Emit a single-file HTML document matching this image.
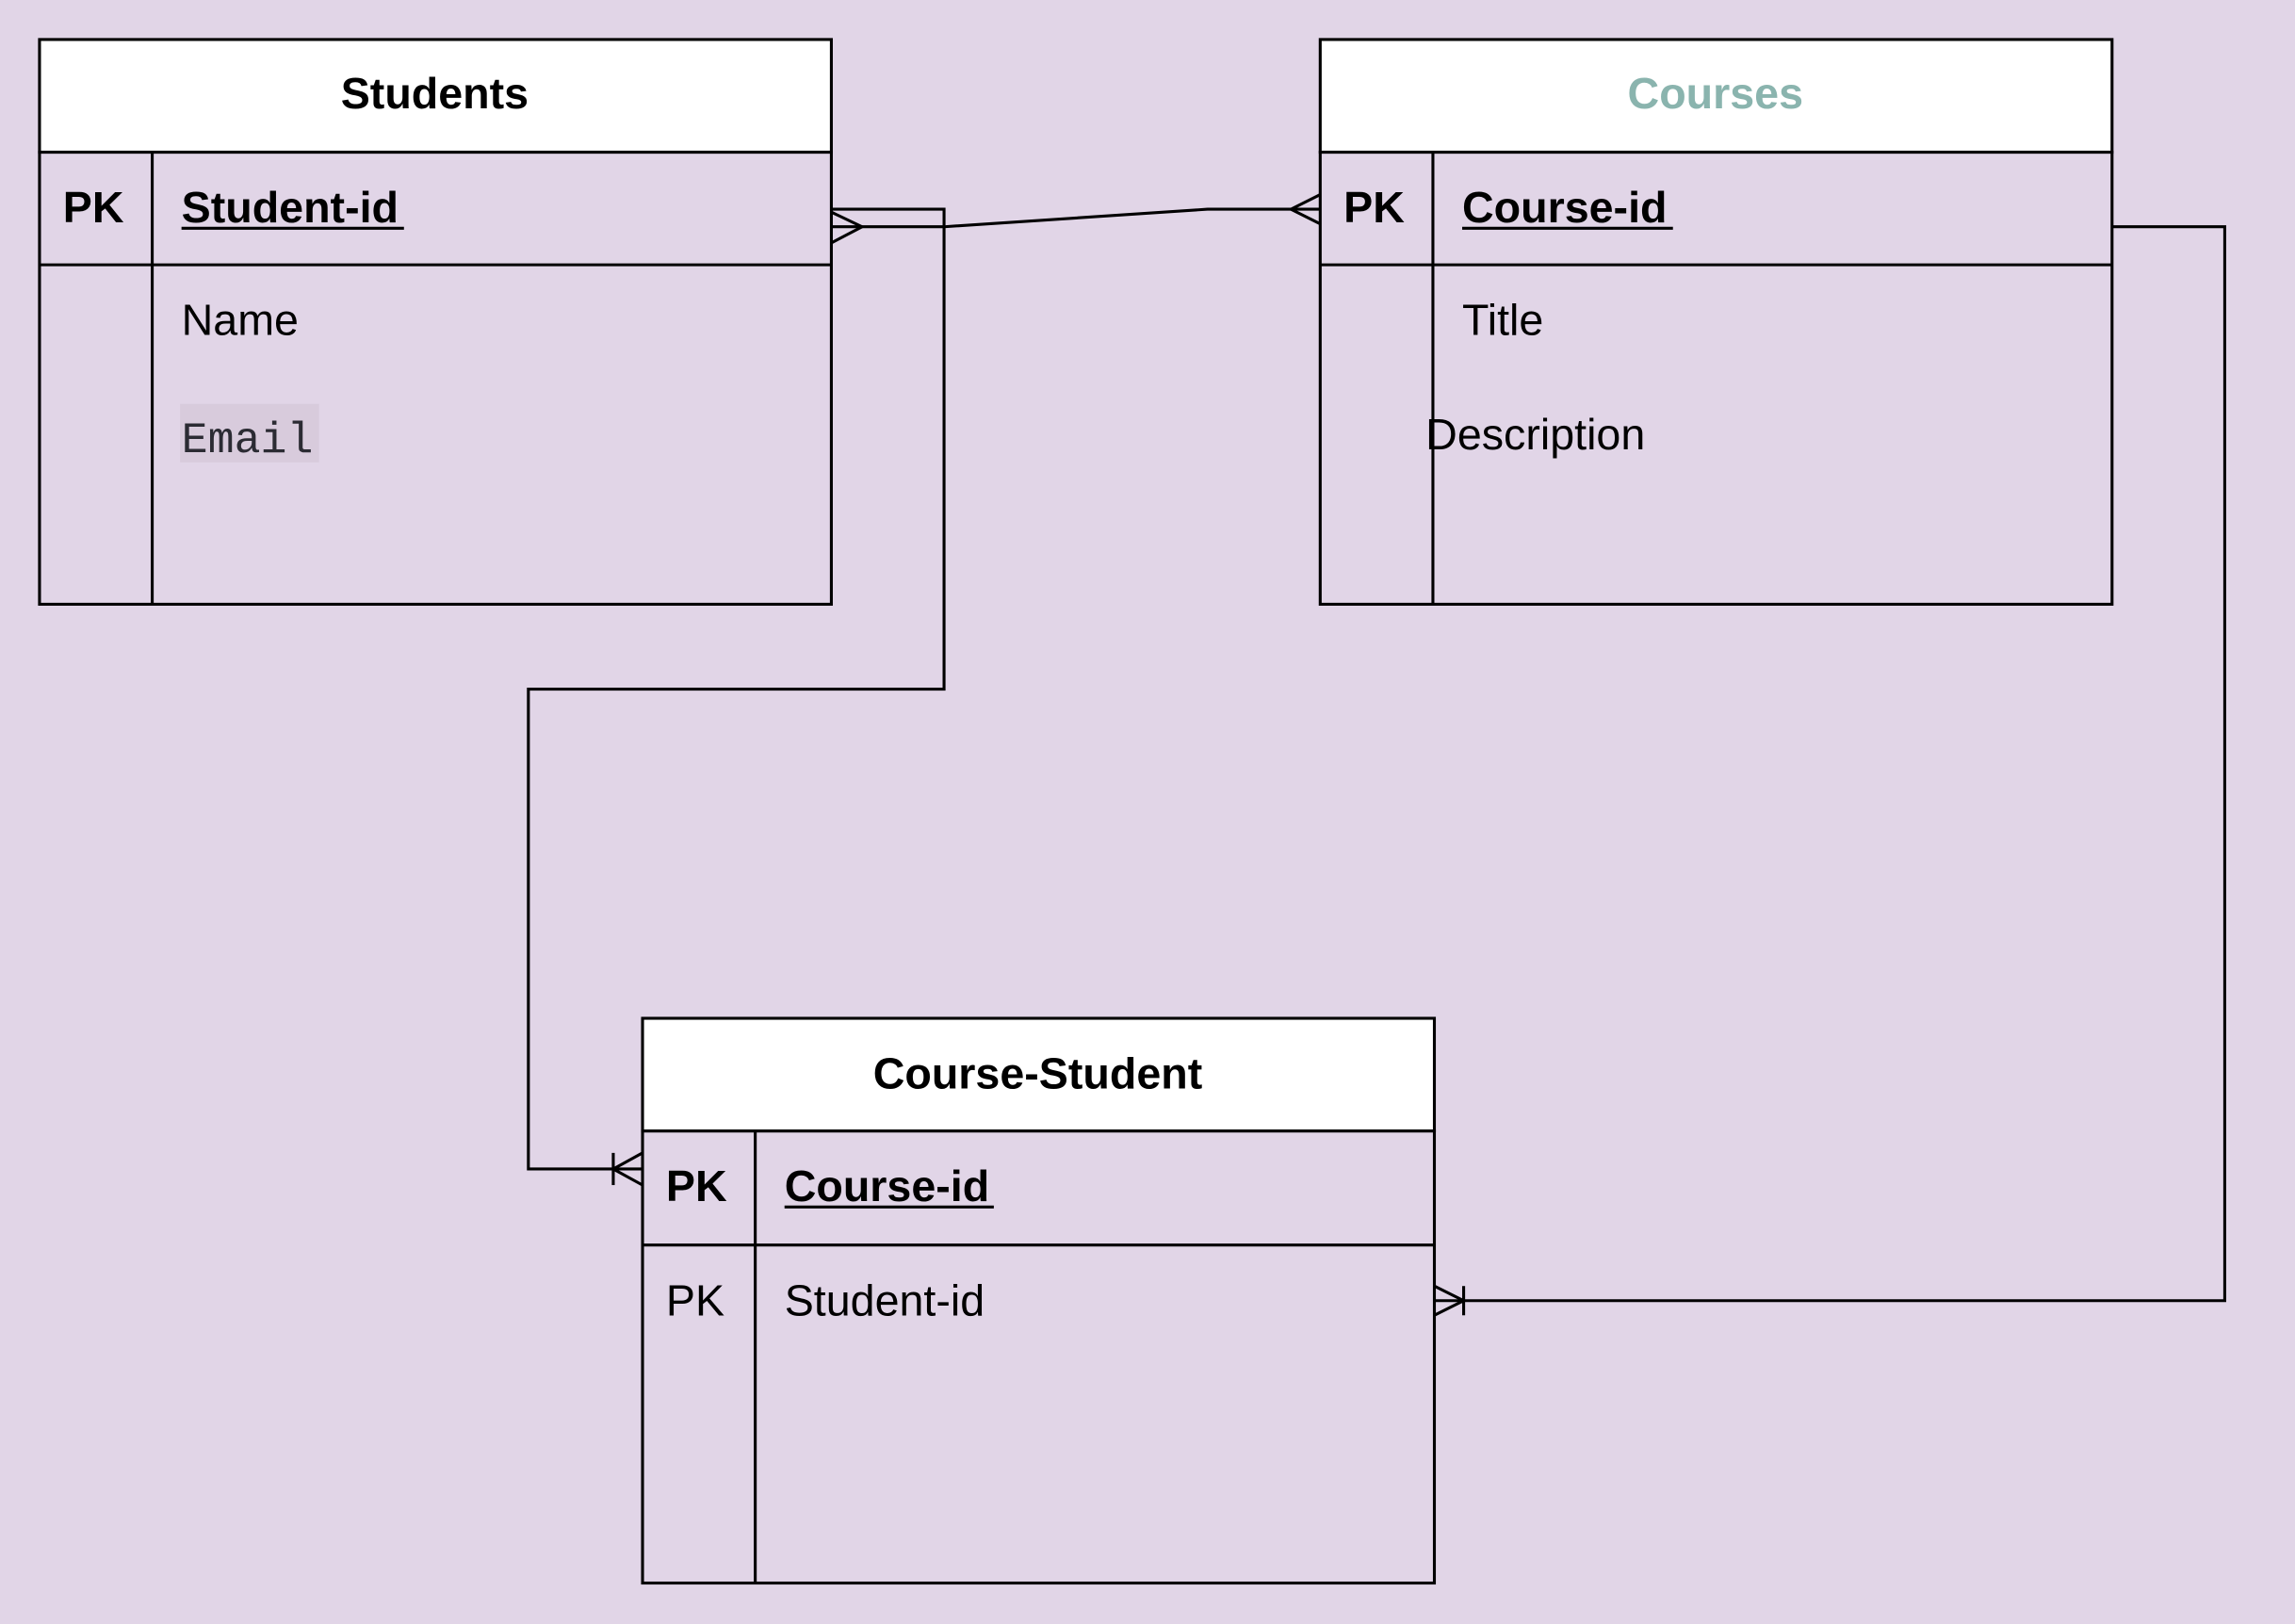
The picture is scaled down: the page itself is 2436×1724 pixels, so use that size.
<!DOCTYPE html>
<html><head><meta charset="utf-8"><style>
html,body{margin:0;padding:0;background:#e1d5e7;}
svg{display:block}
text{font-family:"Liberation Sans",Arial,sans-serif;}
</style></head><body>
<svg width="2436" height="1724" viewBox="0 0 1568 1110" preserveAspectRatio="none" xmlns="http://www.w3.org/2000/svg">
<rect x="0" y="0" width="1568" height="1110" fill="#e1d5e7"/>
<g fill="none" stroke="#000" stroke-width="2">
<!-- Students -->
<rect x="27" y="27" width="541" height="77" fill="#fff"/>
<rect x="27" y="104" width="541" height="309"/>
<line x1="27" y1="181" x2="568" y2="181"/>
<line x1="104" y1="104" x2="104" y2="413"/>
<!-- Courses -->
<rect x="902" y="27" width="541" height="77" fill="#fff"/>
<rect x="902" y="104" width="541" height="309"/>
<line x1="902" y1="181" x2="1443" y2="181"/>
<line x1="979" y1="104" x2="979" y2="413"/>
<!-- Course-Student -->
<rect x="439" y="696" width="541" height="77" fill="#fff"/>
<rect x="439" y="773" width="541" height="309"/>
<line x1="439" y1="851" x2="980" y2="851"/>
<line x1="516" y1="773" x2="516" y2="1082"/>
<!-- connector 1 -->
<polyline points="568,143 645,143 645,471 361,471 361,799 439,799"/>
<line x1="439" y1="788" x2="419" y2="799"/><line x1="439" y1="810" x2="419" y2="799"/>
<line x1="419" y1="788" x2="419" y2="810"/>
<!-- connector 2 -->
<polyline points="568,155 645,155 825,143 902,143"/>
<line x1="568" y1="145" x2="589" y2="155"/><line x1="568" y1="166" x2="589" y2="155"/>
<line x1="902" y1="133" x2="882" y2="143"/><line x1="902" y1="153" x2="882" y2="143"/>
<!-- connector 3 -->
<polyline points="1443,155 1520,155 1520,889 980,889"/>
<line x1="980" y1="879" x2="1000" y2="889"/><line x1="980" y1="899" x2="1000" y2="889"/>
<line x1="1000" y1="879" x2="1000" y2="899"/>
</g>
<!-- texts -->
<g font-size="30" fill="#000">
<text x="297" y="74" text-anchor="middle" font-weight="bold">Students</text>
<text x="1172" y="74" text-anchor="middle" font-weight="bold" fill="#8ab4ae">Courses</text>
<text x="709" y="744" text-anchor="middle" font-weight="bold">Course-Student</text>
<text x="43" y="152" font-weight="bold">PK</text>
<text x="124" y="152" font-weight="bold">Student-id</text>
<text x="918" y="152" font-weight="bold">PK</text>
<text x="999" y="152" font-weight="bold">Course-id</text>
<text x="455" y="821" font-weight="bold">PK</text>
<text x="536" y="821" font-weight="bold">Course-id</text>
<text x="124" y="229">Name</text>
<text x="999" y="229">Title</text>
<text x="974" y="307">Description</text>
<text x="455" y="899">PK</text>
<text x="536" y="899">Student-id</text>
</g>
<g stroke="#000" stroke-width="2">
<line x1="124" y1="156" x2="276" y2="156"/>
<line x1="999" y1="156" x2="1143" y2="156"/>
<line x1="536" y1="825" x2="679" y2="825"/>
</g>
<rect x="123" y="276" width="95" height="40" fill="#d8cbdc"/>
<text x="124" y="309" font-size="30" fill="#2b2b33" style="font-family:'Liberation Mono','DejaVu Sans Mono',monospace">Email</text>
</svg>
</body></html>
